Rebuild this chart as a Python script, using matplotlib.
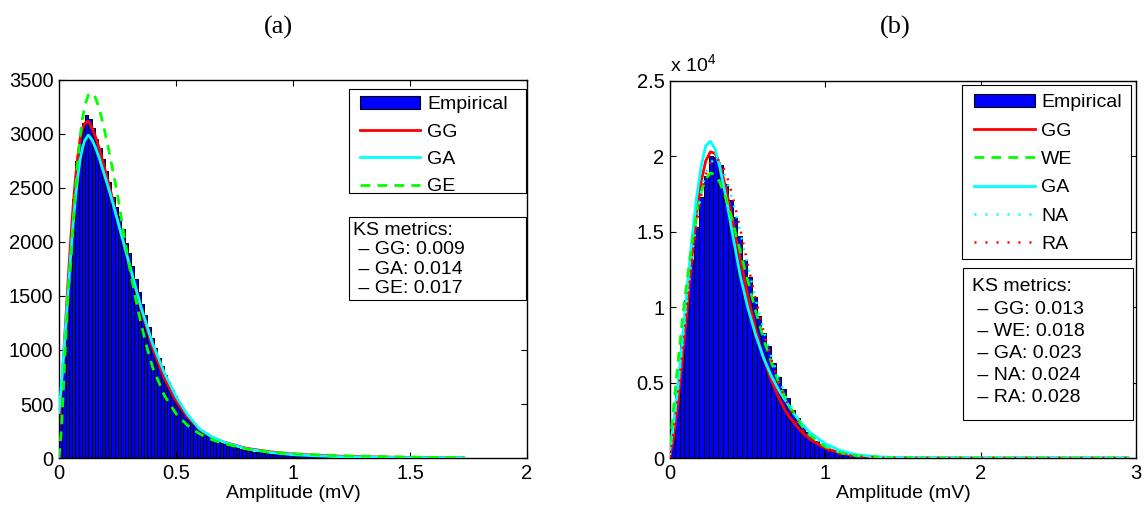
import matplotlib

matplotlib.use("Agg")
import matplotlib.pyplot as plt
from matplotlib.patches import Patch, Rectangle
from matplotlib.lines import Line2D
import numpy as np

plt.rcParams["font.family"] = ["Liberation Sans", "DejaVu Sans"]
plt.rcParams["mathtext.default"] = "regular"

FIG_W, FIG_H = 1148, 513

BLUE = "#0000ff"
RED = "#ff0000"
CYAN = "#00ffff"
GREEN = "#00ff00"

# ---------------- panel (a) ----------------
BIN_WIDTH_A = 0.014
HIST_A = [
    500, 950, 1450, 1950, 2400, 2750, 2980, 3100, 3180, 3140,
    3060, 2950, 2870, 2770, 2660, 2560, 2420, 2320, 2240, 2120,
    1990, 1900, 1780, 1660, 1540, 1430, 1320, 1210, 1110, 1020,
    930, 850, 770, 700, 630, 570, 510, 460, 420, 380,
    340, 310, 280, 255, 230, 210, 190, 172, 156, 142,
    130, 118, 108, 99, 91, 84, 77, 71, 65, 60,
    55, 51, 47, 44, 41, 38, 35, 33, 31, 29,
    30, 27, 24, 22, 21, 19, 18, 17, 16, 15,
    14, 13, 12, 11, 10, 10, 9, 8, 8, 7,
    7, 6, 6, 5, 5, 5, 4, 4, 4, 3,
    3, 3, 3, 2, 2, 2, 2, 2, 1, 1,
    1, 1, 1, 1, 1, 1, 1, 0, 1, 0,
    0, 1, 0, 0, 0,
]
X_A = [0, 0.01, 0.02, 0.03, 0.04, 0.05, 0.06, 0.07, 0.08, 0.09, 0.10, 0.11,
       0.125, 0.14, 0.155, 0.17, 0.19, 0.21, 0.23, 0.25, 0.275, 0.3, 0.325,
       0.35, 0.375, 0.4, 0.45, 0.5, 0.55, 0.6, 0.65, 0.7, 0.8, 0.9, 1.0, 1.1,
       1.2, 1.35, 1.5, 1.6, 1.73]
GG_A = [280, 600, 960, 1320, 1680, 2020, 2320, 2580, 2790, 2950, 3050, 3100,
        3120, 3060, 2980, 2880, 2720, 2560, 2390, 2210, 2000, 1790, 1580,
        1380, 1200, 1020, 740, 530, 380, 265, 195, 150, 90, 58, 36, 25,
        17, 10, 5, 3, 2]
GA_A = [420, 680, 960, 1260, 1570, 1880, 2160, 2400, 2600, 2760, 2870, 2940,
        2990, 2950, 2880, 2790, 2650, 2510, 2360, 2200, 2000, 1800, 1600,
        1400, 1230, 1060, 790, 570, 400, 270, 200, 150, 85, 52, 30, 20,
        12, 6, 3, 2, 1]
GE_A = [0, 250, 700, 1150, 1550, 1800, 2150, 2470, 2750, 2970, 3140, 3260,
        3360, 3380, 3340, 3250, 3080, 2880, 2660, 2440, 2100, 1780, 1500,
        1250, 1030, 840, 580, 410, 300, 225, 172, 135, 85, 55, 40, 30,
        22, 14, 9, 6, 4]
KS_A = ["KS metrics:", " \u2013 GG: 0.009", " \u2013 GA: 0.014", " \u2013 GE: 0.017"]

# ---------------- panel (b) ----------------
BIN_WIDTH_B = 0.031
HIST_B = [
    1900, 4700, 7600, 10500, 13100, 15300, 17300, 18700, 20000, 19950,
    19400, 18200, 17100, 16000, 14700, 13100, 12000, 10700, 9400, 8300,
    7400, 6300, 5400, 4600, 4000, 3200, 2650, 2100, 1750, 1400,
    1100, 900, 700, 560, 430, 330, 250, 180, 130, 90,
    65, 45, 30, 20, 14, 10, 7, 5, 3, 2,
    2, 1, 1, 1, 0, 0, 0, 0, 0, 0,
    0, 0, 0, 0, 0, 0, 0, 0, 0, 0,
    0, 0, 0, 0, 0, 0, 0, 0, 0, 0,
    0, 0, 0, 0, 0, 0, 0, 0, 0, 0,
    0, 0, 0,
]
X_B = [0, 0.02, 0.05, 0.08, 0.11, 0.14, 0.17, 0.2, 0.23, 0.26, 0.29, 0.32,
       0.36, 0.4, 0.45, 0.5, 0.55, 0.6, 0.65, 0.7, 0.75, 0.8, 0.85, 0.9,
       1.0, 1.1, 1.2, 1.35, 1.5, 1.7, 2.0, 2.4, 2.95]
GG_B = [200, 1200, 3600, 6600, 9900, 13200, 16100, 18300, 19700, 20300, 20200,
        19500, 17900, 15900, 13300, 10800, 8600, 6700, 5200, 4000, 3000, 2300,
        1700, 1250, 650, 320, 150, 45, 12, 3, 0, 0, 0]
WE_B = [800, 3000, 6200, 9200, 11800, 14100, 16100, 17600, 18500, 18900, 18800,
        18300, 17200, 15800, 13800, 11800, 9800, 8000, 6400, 5000, 3800, 2900,
        2100, 1500, 750, 340, 150, 40, 10, 2, 0, 0, 0]
GA_B = [600, 2100, 4600, 7900, 11200, 14400, 17200, 19300, 20700, 21000, 20500,
        19300, 17300, 15000, 12200, 10000, 8200, 6700, 5500, 4500, 3700, 2900,
        2250, 1700, 950, 480, 220, 70, 20, 4, 0, 0, 0]
NA_B = [200, 1900, 4500, 7500, 10500, 13300, 15700, 17600, 18900, 19600, 19800,
        19500, 18600, 17200, 15100, 12800, 10600, 8600, 6800, 5300, 4000, 3000,
        2200, 1600, 800, 370, 160, 40, 10, 2, 0, 0, 0]
RA_B = [0, 1500, 4000, 7000, 10000, 12900, 15400, 17400, 18800, 19600, 19900,
        19700, 18900, 17500, 15300, 12900, 10600, 8500, 6600, 5000, 3700, 2700,
        1900, 1300, 580, 230, 85, 15, 3, 0, 0, 0, 0]
KS_B = ["KS metrics:", " \u2013 GG: 0.013", " \u2013 WE: 0.018", " \u2013 GA: 0.023",
        " \u2013 NA: 0.024", " \u2013 RA: 0.028"]
Y_TICKS_B = [0, 5000, 10000, 15000, 20000, 25000]
Y_TICKLABELS_B = ["0", "0.5", "1", "1.5", "2", "2.5"]

FONT = 14
DASHED = (0, (3.5, 2.6))
DOTTED = (0, (0.8, 3.6))


def px_axes(left, top, right, bottom):
    return [left / FIG_W, 1 - bottom / FIG_H, (right - left) / FIG_W, (bottom - top) / FIG_H]


def style_axes(ax):
    for sp in ax.spines.values():
        sp.set_linewidth(1.0)
    ax.tick_params(direction="in", top=True, right=True, length=4, width=0.8,
                   labelsize=14.5, pad=4)


def draw_hist(ax, heights, width):
    heights = np.asarray(heights, dtype=float)
    centers = (np.arange(len(heights)) + 0.5) * width
    ax.bar(centers, heights, width=width, color=BLUE, edgecolor="black",
           linewidth=0.75, zorder=1)


def frame_box(ax, x0, x1, y_top, y_bot):
    ax.add_patch(Rectangle((x0, y_bot), x1 - x0, y_top - y_bot, transform=ax.transAxes,
                           facecolor="white", edgecolor="black", linewidth=0.8, zorder=5))


def ks_box(ax, lines, x0, x1, y_top, y_bot, text_x, first_y, step):
    frame_box(ax, x0, x1, y_top, y_bot)
    for i, line in enumerate(lines):
        ax.text(text_x, first_y - i * step, line, transform=ax.transAxes, fontsize=FONT,
                ha="left", va="center", zorder=6)


def legend(ax, handles, labels, box, anchor, spacing=0.5):
    frame_box(ax, *box)
    leg = ax.legend(handles, labels, loc="upper left", bbox_to_anchor=anchor,
                    borderaxespad=0, borderpad=0, fontsize=FONT, handlelength=3.1,
                    handletextpad=0.35, labelspacing=spacing, frameon=False)
    leg.set_zorder(6)
    return leg


fig = plt.figure(figsize=(FIG_W / 100, FIG_H / 100), dpi=100)

# panel (a)
ax = fig.add_axes(px_axes(59, 80, 527, 458))
draw_hist(ax, HIST_A, BIN_WIDTH_A)
ax.plot(X_A, GG_A, color=RED, lw=2, zorder=2)
ax.plot(X_A, GA_A, color=CYAN, lw=2, zorder=3)
ax.plot(X_A, GE_A, color=GREEN, lw=2, ls=DASHED, zorder=4)
ax.set_xlim(0, 2)
ax.set_ylim(0, 3500)
ax.set_xticks([0, 0.5, 1, 1.5, 2])
ax.set_xticklabels(["0", "0.5", "1", "1.5", "2"])
ax.set_yticks(np.arange(0, 3501, 500))
style_axes(ax)
ax.set_xlabel("Amplitude (mV)", fontsize=FONT, labelpad=2)
handles = [Patch(facecolor=BLUE, edgecolor="black", linewidth=0.8),
           Line2D([], [], color=RED, lw=2),
           Line2D([], [], color=CYAN, lw=2),
           Line2D([], [], color=GREEN, lw=2, ls=DASHED)]
legend(ax, handles, ["Empirical", "GG", "GA", "GE"],
       (0.620, 0.998, 0.976, 0.701), (0.643, 0.958))
ks_box(ax, KS_A, 0.620, 0.998, 0.638, 0.418, 0.628, 0.603, 0.0516)
fig.text(278 / FIG_W, 1 - 27 / FIG_H, "(a)", family="Liberation Serif", fontsize=19,
         ha="center", va="center")

# panel (b)
ax = fig.add_axes(px_axes(670, 81, 1136, 458))
draw_hist(ax, HIST_B, BIN_WIDTH_B)
ax.plot(X_B, GG_B, color=RED, lw=2, zorder=3)
ax.plot(X_B, WE_B, color=GREEN, lw=2, ls=DASHED, zorder=4)
ax.plot(X_B, GA_B, color=CYAN, lw=2, zorder=3)
ax.plot(X_B, NA_B, color=CYAN, lw=1.8, ls=DOTTED, zorder=4)
ax.plot(X_B, RA_B, color=RED, lw=1.8, ls=DOTTED, zorder=4)
ax.set_xlim(0, 3)
ax.set_ylim(0, 25000)
ax.set_xticks([0, 1, 2, 3])
ax.set_yticks(Y_TICKS_B)
ax.set_yticklabels(Y_TICKLABELS_B)
style_axes(ax)
ax.set_xlabel("Amplitude (mV)", fontsize=FONT, labelpad=2)
ax.text(0.0, 1.015, "x 10$^{4}$", transform=ax.transAxes, fontsize=FONT,
        ha="left", va="bottom")
handles = [Patch(facecolor=BLUE, edgecolor="black", linewidth=0.8),
           Line2D([], [], color=RED, lw=2),
           Line2D([], [], color=GREEN, lw=2, ls=DASHED),
           Line2D([], [], color=CYAN, lw=2),
           Line2D([], [], color=CYAN, lw=1.8, ls=DOTTED),
           Line2D([], [], color=RED, lw=1.8, ls=DOTTED)]
legend(ax, handles, ["Empirical", "GG", "WE", "GA", "NA", "RA"],
       (0.627, 0.989, 0.989, 0.528), (0.653, 0.966), spacing=0.55)
ks_box(ax, KS_B, 0.629, 0.994, 0.504, 0.101, 0.648, 0.4536, 0.0584)
fig.text(895 / FIG_W, 1 - 27 / FIG_H, "(b)", family="Liberation Serif", fontsize=19,
         ha="center", va="center")

fig.savefig("out.png", dpi=100)
